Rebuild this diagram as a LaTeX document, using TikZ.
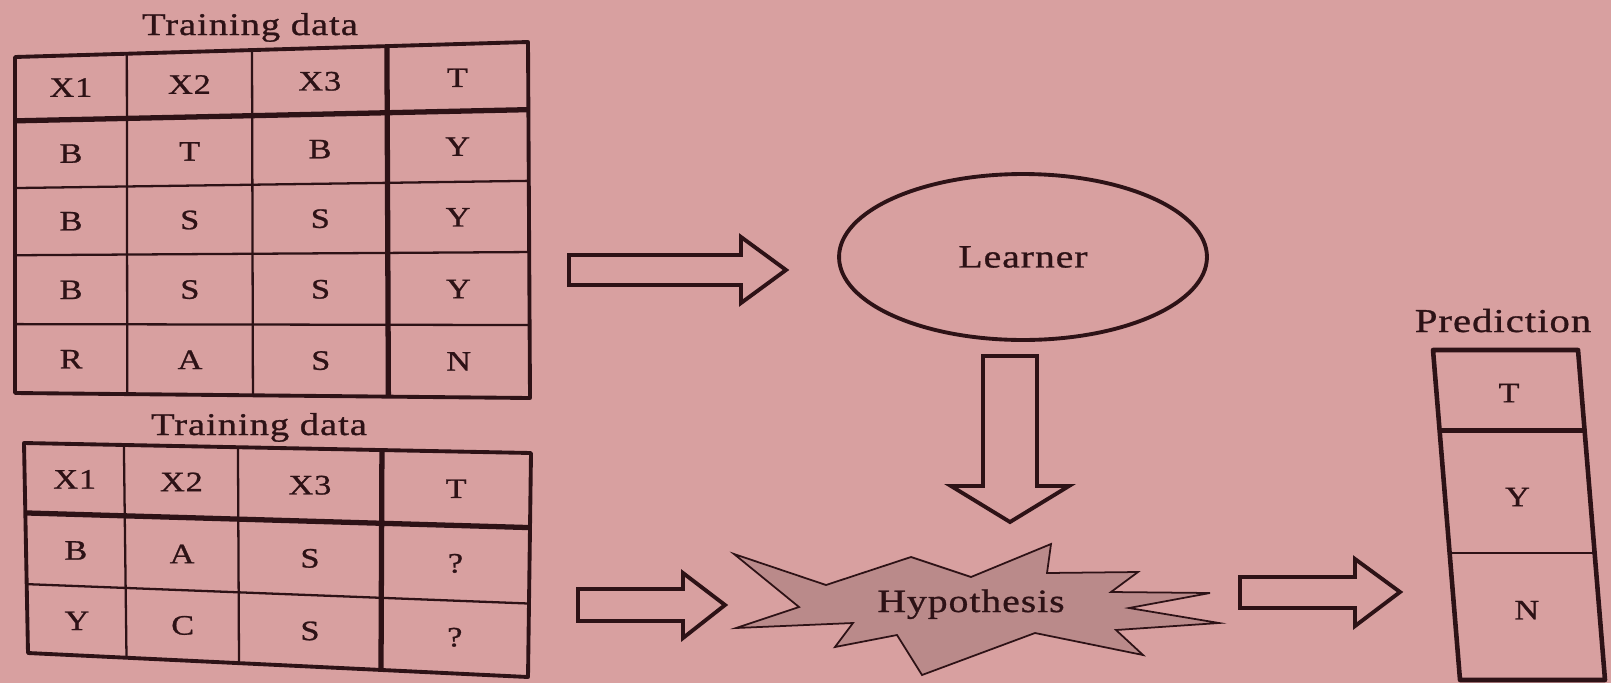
\documentclass[tikz,border=0pt]{standalone}
\usepackage{fontspec}
\setmainfont{Liberation Serif}[FakeStretch=1.22,LetterSpace=3,FakeBold=0.9]
\usetikzlibrary{calc,shapes.geometric}

\definecolor{paper}{RGB}{216,160,160}
\definecolor{ink}{RGB}{45,18,22}
\definecolor{starfill}{RGB}{186,138,138}

\tikzset{
  outer/.style={draw=ink, line width=2.2pt, line join=round},
  rule/.style={draw=ink, line width=1.3pt},
  heavyrule/.style={draw=ink, line width=3pt},
  cell/.style={inner sep=0pt, text=ink, font=\fontsize{16}{19}\selectfont,
    text height=10.6pt, text depth=0pt},
  caption/.style={inner sep=0pt, text=ink, anchor=base},
  blockarrow/.style={draw=ink, line width=2.2pt, line join=miter},
}

\begin{document}
\begin{tikzpicture}[x=0.02cm, y=-0.02cm]
\fill[paper] (0,0) rectangle (1611,683);
\useasboundingbox (0,0) rectangle (1611,683);

% ---------- first training table ----------
\node[caption, font=\fontsize{18}{21}\selectfont] (titleA) at (250,35) {Training data};
\coordinate (A-TL) at (15,57);
\coordinate (A-TR) at (528,42);
\coordinate (A-BL) at (15,393);
\coordinate (A-BR) at (530,398);
\foreach \v in {0.39,0.59,0.795}
  \draw[rule] ($(A-TL)!\v!(A-BL)$) -- ($(A-TR)!\v!(A-BR)$);
\foreach \u in {0.218,0.462}
  \draw[rule] ($(A-TL)!\u!(A-TR)$) -- ($(A-BL)!\u!(A-BR)$);
\draw[heavyrule] ($(A-TL)!0.19!(A-BL)$) -- ($(A-TR)!0.19!(A-BR)$);
\draw[heavyrule] ($(A-TL)!0.725!(A-TR)$) -- ($(A-BL)!0.725!(A-BR)$);
\draw[outer] (A-TL) -- (A-TR) -- (A-BR) -- (A-BL) -- cycle;
\foreach \row [count=\i] in {{X1,X2,X3,T},{B,T,B,Y},{B,S,S,Y},{B,S,S,Y},{R,A,S,N}}{
  \foreach \txt [count=\j] in \row {
    \pgfmathsetmacro\u{{0.109,0.34,0.594,0.862}[\j-1]}
    \pgfmathsetmacro\v{{0.095,0.29,0.49,0.693,0.898}[\i-1]}
    \coordinate (cu) at ($(A-TL)!\u!(A-TR)$);
    \coordinate (cl) at ($(A-BL)!\u!(A-BR)$);
    \node[cell] (A-\i-\j) at ($(cu)!\v!(cl)$) {\txt};
  }
}

% ---------- second table (queries) ----------
\node[caption, font=\fontsize{18}{21}\selectfont] (titleB) at (259,435) {Training data};
\coordinate (B-TL) at (24,443);
\coordinate (B-TR) at (531,453);
\coordinate (B-BL) at (28,653);
\coordinate (B-BR) at (528,677);
\draw[rule] ($(B-TL)!0.672!(B-BL)$) -- ($(B-TR)!0.672!(B-BR)$);
\foreach \u in {0.197,0.422}
  \draw[rule] ($(B-TL)!\u!(B-TR)$) -- ($(B-BL)!\u!(B-BR)$);
\draw[heavyrule] ($(B-TL)!0.333!(B-BL)$) -- ($(B-TR)!0.333!(B-BR)$);
\draw[heavyrule] ($(B-TL)!0.706!(B-TR)$) -- ($(B-BL)!0.706!(B-BR)$);
\draw[outer] (B-TL) -- (B-TR) -- (B-BR) -- (B-BL) -- cycle;
\foreach \row [count=\i] in {{X1,X2,X3,T},{B,A,S,?},{Y,C,S,?}}{
  \foreach \txt [count=\j] in \row {
    \pgfmathsetmacro\u{{0.099,0.31,0.564,0.853}[\j-1]}
    \pgfmathsetmacro\v{{0.167,0.503,0.836}[\i-1]}
    \coordinate (cu) at ($(B-TL)!\u!(B-TR)$);
    \coordinate (cl) at ($(B-BL)!\u!(B-BR)$);
    \node[cell] (B-\i-\j) at ($(cu)!\v!(cl)$) {\txt};
  }
}

% ---------- learner ----------
\node[ellipse, draw=ink, line width=2.2pt, minimum width=7.36cm, minimum height=3.32cm,
      inner sep=0pt, text=ink, font=\fontsize{18.5}{22}\selectfont] (learner) at (1023,257) {Learner};

% ---------- hypothesis burst ----------
\draw[draw=ink, line width=1pt, fill=starfill, line join=miter]
  (734,554) -- (826,585) -- (911,557) -- (971,577) -- (1051,544) -- (1047,573)
  -- (1138,572) -- (1111,592) -- (1210,593) -- (1129,608) -- (1219,623)
  -- (1116,630) -- (1143,655) -- (1035,633) -- (922,675) -- (897,635)
  -- (835,647) -- (853,623) -- (736,628) -- (799,607) -- cycle;
\node[caption, font=\fontsize{18.5}{22}\selectfont] (hyp) at (971,612) {Hypothesis};

% ---------- prediction column ----------
\node[caption, font=\fontsize{19}{22}\selectfont] (titleP) at (1503,332) {Prediction};
\coordinate (P-TL) at (1433,350);
\coordinate (P-TR) at (1578,350);
\coordinate (P-BL) at (1460,680);
\coordinate (P-BR) at (1605,680);
\draw[rule] ($(P-TL)!0.615!(P-BL)$) -- ($(P-TR)!0.615!(P-BR)$);
\draw[heavyrule] ($(P-TL)!0.245!(P-BL)$) -- ($(P-TR)!0.245!(P-BR)$);
\draw[outer, line width=2.6pt] (P-TL) -- (P-TR) -- (P-BR) -- (P-BL) -- cycle;
\foreach \txt/\v [count=\i] in {T/0.13, Y/0.445, N/0.788} {
  \coordinate (cu) at ($(P-TL)!0.5!(P-TR)$);
  \coordinate (cl) at ($(P-BL)!0.5!(P-BR)$);
  \node[cell] (P-\i) at ($(cu)!\v!(cl)$) {\txt};
}

% ---------- block arrows ----------
\draw[blockarrow] (569,255) -- (741,255) -- (741,237) -- (786,270) -- (741,303)
  -- (741,285) -- (569,285) -- cycle;
\draw[blockarrow] (983,356) -- (1037,356) -- (1037,486) -- (1069,486) -- (1010,522)
  -- (951,486) -- (983,486) -- cycle;
\draw[blockarrow] (578,589) -- (683,589) -- (683,573) -- (725,605) -- (683,638)
  -- (683,621) -- (578,621) -- cycle;
\draw[blockarrow] (1240,577) -- (1355,577) -- (1355,559) -- (1400,592) -- (1355,626)
  -- (1355,608) -- (1240,608) -- cycle;
\end{tikzpicture}
\end{document}
